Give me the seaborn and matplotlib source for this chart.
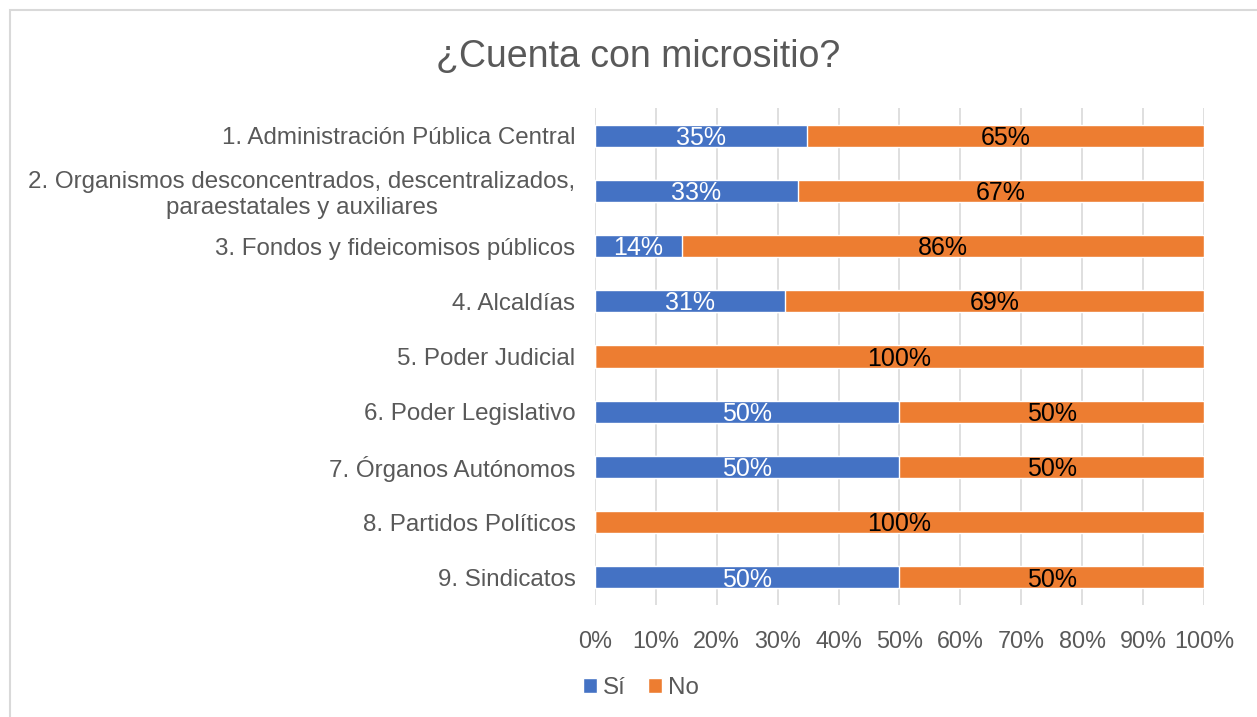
import pandas as pd
import matplotlib.pyplot as plt
import seaborn as sns
from matplotlib.patches import Rectangle

# Data
categories = [
    "1. Administración Pública Central",
    "2. Organismos desconcentrados, descentralizados,\nparaestatales y auxiliares",
    "3. Fondos y fideicomisos públicos",
    "4. Alcaldías",
    "5. Poder Judicial",
    "6. Poder Legislativo",
    "7. Órganos Autónomos",
    "8. Partidos Políticos",
    "9. Sindicatos",
]
si_pct = [34.8, 33.3, 14.3, 31.2, 0, 50, 50, 0, 50]
no_pct = [65.2, 66.7, 85.7, 68.8, 100, 50, 50, 100, 50]

df = pd.DataFrame({"cat": categories, "si": si_pct, "no": no_pct})
df["total"] = df["si"] + df["no"]

blue = "#4472C4"
orange = "#ED7D31"
grey = "#595959"

sns.set_style("white")
plt.rcParams['font.family'] = ['Liberation Sans', 'DejaVu Sans']

fig = plt.figure(figsize=(12.57, 7.17), dpi=100)
ax = fig.add_axes([0.4733, 0.1562, 0.4845, 0.6932])

sns.barplot(data=df, y="cat", x="total", color=orange, width=0.4, ax=ax,
            orient="h", saturation=1, label="No")
sns.barplot(data=df, y="cat", x="si", color=blue, width=0.4, ax=ax,
            orient="h", saturation=1, label="Sí")

# data labels
for i, row in df.iterrows():
    if row["si"] > 0:
        ax.text(row["si"] / 2, i + 0.04, f"{row['si']:.0f}%", ha="center",
                va="center", color="white", fontsize=18)
    ax.text(row["si"] + row["no"] / 2, i + 0.04, f"{row['no']:.0f}%",
            ha="center", va="center", color="black", fontsize=18)

ax.set_xlim(0, 100)
ax.set_ylim(8.5, -0.5)
ax.set_xticks(range(0, 101, 10))
ax.set_xticklabels([f"{v}%" for v in range(0, 101, 10)])
ax.xaxis.grid(True, color="#D9D9D9", linewidth=1.2)
ax.set_axisbelow(True)
for s in ax.spines.values():
    s.set_visible(False)
ax.tick_params(axis="both", length=0, colors=grey)
ax.tick_params(axis="y", pad=14, labelsize=17.4)
ax.tick_params(axis="x", pad=18, labelsize=16.8)
ax.set_xlabel("")
ax.set_ylabel("")
for lab in ax.get_yticklabels():
    lab.set_horizontalalignment("right")
    lab.set_multialignment("center")

handles, labels = ax.get_legend_handles_labels()
order = [labels.index("Sí"), labels.index("No")]
fig.legend([handles[k] for k in order], [labels[k] for k in order],
           loc="center", bbox_to_anchor=(641 / 1257, 1 - 688 / 717), ncol=2,
           frameon=False, fontsize=17.4, handlelength=0.6, handleheight=0.6,
           handletextpad=0.25, columnspacing=0.9, labelcolor=grey)
if ax.get_legend() is not None:
    ax.get_legend().remove()

fig.text(638 / 1257, 1 - 57 / 717, "¿Cuenta con micrositio?", ha="center",
         va="center", fontsize=27, color=grey)

fig.patches.append(Rectangle((10 / 1257, -0.1), 1.2, 1 - 10 / 717 + 0.1,
                             transform=fig.transFigure, fill=False,
                             edgecolor="#D9D9D9", linewidth=1.5))

fig.savefig("out.png", dpi=100)
